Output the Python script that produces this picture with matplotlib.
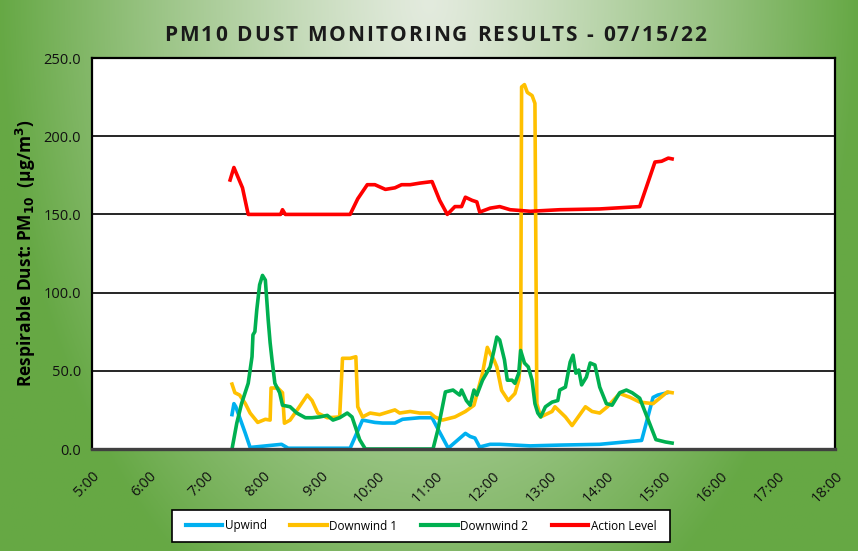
import numpy as np
import matplotlib.pyplot as plt
from matplotlib.patches import Rectangle
from datetime import datetime

plt.rcParams['font.family'] = ['Open Sans', 'DejaVu Sans']

# --- data (time "H:MM", PM10 ug/m3) ---
up_t = ['7:27', '7:29', '7:31', '7:41', '7:46', '8:19', '8:26', '9:31', '9:44', '9:57',
        '10:05', '10:18', '10:26', '10:44', '10:57', '11:03', '11:14', '11:32', '11:37',
        '11:42', '11:47', '11:58', '12:08', '12:40', '13:11', '13:53', '14:37', '14:49',
        '14:54', '15:04']
up_v = [22, 29, 27, 10, 1, 3, 0.5, 0.5, 18.5, 17,
        16.6, 16.6, 19, 20, 20, 13, 0.5, 10, 8,
        7, 1.3, 3, 3, 2, 2.5, 3, 5.5, 33,
        34.5, 36]

dw1_t = ['7:27', '7:30', '7:35', '7:41', '7:46', '7:54', '8:02', '8:07', '8:08', '8:15',
         '8:20', '8:22', '8:28', '8:36', '8:46', '8:51', '8:57', '9:07', '9:20', '9:23',
         '9:31', '9:37', '9:39', '9:44', '9:52', '10:02', '10:18', '10:23', '10:34', '10:44',
         '10:55', '11:00', '11:08', '11:21', '11:32', '11:41', '11:50', '11:55', '11:58', '12:02',
         '12:05', '12:10', '12:17', '12:24', '12:28', '12:30', '12:31', '12:34', '12:37', '12:42',
         '12:45', '12:47', '12:51', '13:03', '13:06', '13:17', '13:24', '13:38', '13:45', '13:53',
         '14:01', '14:14', '14:25', '14:35', '14:49', '14:56', '15:04', '15:09']
dw1_v = [41.5, 36, 34.5, 29, 23, 17, 19, 18.5, 39, 39,
         36, 16.5, 18.5, 25.5, 34.5, 31, 23, 20, 20.5, 58,
         58, 59, 27, 20.5, 23, 22, 25, 23, 24, 23,
         23, 20.5, 18.5, 20.5, 24, 28, 48.5, 65, 61, 57,
         52.5, 37.5, 31, 35.5, 44, 57, 231.5, 233, 228, 226,
         221, 29, 20.5, 24, 27, 20.5, 15, 27, 24, 23,
         27, 35.5, 33, 30, 29, 32.5, 36.5, 36]

dw2_t = ['7:27', '7:32', '7:37', '7:44', '7:48', '7:49', '7:51', '7:53', '7:56', '7:59',
         '8:02', '8:05', '8:07', '8:09', '8:12', '8:17', '8:20', '8:28', '8:35', '8:44',
         '8:51', '8:59', '9:07', '9:13', '9:20', '9:28', '9:33', '9:41', '9:47', '10:58',
         '11:03', '11:11', '11:19', '11:26', '11:28', '11:33', '11:37', '11:41', '11:44', '11:50',
         '11:58', '12:02', '12:05', '12:08', '12:13', '12:16', '12:21', '12:24', '12:28', '12:30',
         '12:34', '12:38', '12:42', '12:45', '12:48', '12:51', '12:56', '13:03', '13:09', '13:11',
         '13:17', '13:22', '13:25', '13:28', '13:31', '13:34', '13:39', '13:43', '13:48', '13:53',
         '14:00', '14:06', '14:14', '14:21', '14:27', '14:35', '14:44', '14:52', '15:02', '15:09']
dw2_v = [0, 16.5, 29, 42, 59, 73, 75, 89, 105, 111,
         108, 82.5, 68, 57, 42, 36, 28, 27, 23, 20,
         20, 20.5, 21.5, 18.5, 20, 23, 20.5, 6, 0, 0,
         12, 36.5, 37.7, 34.5, 37.7, 31, 28, 37.7, 34.5, 44,
         52.5, 63, 71.6, 69.7, 57, 44, 44, 42, 48.5, 63,
         55, 52.5, 44, 29, 23, 20.5, 27, 30, 31, 37.7,
         39.6, 55.6, 60, 48.5, 50.5, 41, 46, 55, 53.7, 39.6,
         29, 28, 36, 37.7, 36, 32.5, 18.5, 6, 4.5, 3.8]

act_t = ['7:25', '7:29', '7:38', '7:44', '8:18', '8:20', '8:23', '9:31', '9:39', '9:49',
         '9:57', '10:08', '10:18', '10:25', '10:34', '10:44', '10:57', '11:05', '11:13', '11:21',
         '11:28', '11:32', '11:39', '11:44', '11:47', '11:58', '12:08', '12:19', '12:40', '13:11',
         '13:53', '14:35', '14:51', '14:58', '15:05', '15:09']
act_v = [172, 180, 167, 150, 150, 153, 150, 150, 160, 169,
         169, 166, 167, 169, 169, 170, 171, 159, 150, 155,
         155, 161, 159, 158, 151.5, 154, 155, 153, 152, 153,
         153.5, 155, 183.5, 184, 186, 185.5]

x_ticks = ['%d:00' % h for h in range(5, 19)]
title = 'PM10 DUST MONITORING RESULTS - 07/15/22'


def to_dt(lst):
    return [datetime.strptime('2022-07-15 ' + s, '%Y-%m-%d %H:%M') for s in lst]


fig = plt.figure(figsize=(8.58, 5.51), dpi=100)

# green gradient background, light at top centre
bg = fig.add_axes([0, 0, 1, 1], zorder=-5)
yy, xx = np.mgrid[0:1:300j, 0:1:500j]
d = np.sqrt(((xx - 0.5) / 0.5) ** 2 + ((yy - 0.0) / 1.25) ** 2)
d = np.clip(d, 0, 1) ** 1.2
light = np.array([0.89, 0.92, 0.87])
dark = np.array([0.40, 0.66, 0.27])
img = light[None, None, :] + (dark - light)[None, None, :] * d[:, :, None]
bg.imshow(img, aspect='auto', extent=[0, 1, 0, 1], origin='upper')
bg.set_axis_off()

ax = fig.add_axes([0.1072, 0.1851, 0.866, 0.7096])
ax.set_facecolor('white')

lw = 2.6
ax.plot(to_dt(up_t), up_v, color='#00B0F0', lw=lw, label='Upwind', solid_joinstyle='round')
ax.plot(to_dt(dw1_t), dw1_v, color='#FFC000', lw=lw, label='Downwind 1', solid_joinstyle='round')
ax.plot(to_dt(dw2_t), dw2_v, color='#00B050', lw=lw, label='Downwind 2', solid_joinstyle='round')
ax.plot(to_dt(act_t), act_v, color='#FF0000', lw=lw, label='Action Level', solid_joinstyle='round')

ax.set_ylim(0, 250)
ax.set_yticks([0, 50, 100, 150, 200, 250])
ax.set_yticklabels(['%.1f' % v for v in [0, 50, 100, 150, 200, 250]])
ax.grid(axis='y', color='black', lw=1.2)
ax.set_axisbelow(True)

tick_dt = to_dt(x_ticks)
ax.set_xlim(tick_dt[0], tick_dt[-1])
ax.set_xticks(tick_dt)
ax.set_xticklabels(x_ticks, rotation=45, ha='right', va='top', rotation_mode='anchor')
ax.tick_params(axis='x', length=0, pad=14, labelsize=10.5, labelcolor='#111111')
ax.tick_params(axis='y', length=0, pad=8, labelsize=10.5, labelcolor='#111111')

for s in ['left', 'top', 'right']:
    ax.spines[s].set_linewidth(1.6)
    ax.spines[s].set_color('black')
ax.spines['bottom'].set_linewidth(2.4)
ax.spines['bottom'].set_color('#404040')

ax.set_ylabel('Respirable Dust: PM$_{\\mathbf{10}}$  (µg/m$^{\\mathbf{3}}$)',
              fontsize=12.5, fontweight='bold', labelpad=4)

# title with extra letter spacing, laid out character by character
renderer = fig.canvas.get_renderer()
tkw = dict(fontsize=15, fontweight='bold', color='#1a1a1a', va='center', ha='left')
spacing = 2.1  # px between letters
probe = fig.text(0, 0, 'x', **tkw)
wx = probe.get_window_extent(renderer).width
probe.remove()
offsets = []
for i in range(len(title) + 1):
    p = fig.text(0, 0, title[:i] + 'x', **tkw)
    offsets.append(p.get_window_extent(renderer).width - wx + i * spacing)
    p.remove()
total = offsets[-1] - spacing
x0 = 435 - total / 2
W, H = fig.bbox.width, fig.bbox.height
for i, ch in enumerate(title):
    if ch != ' ':
        fig.text((x0 + offsets[i]) / W, 0.936, ch, **tkw)

# legend with a wide frame
fig.add_artist(Rectangle((172 / 858, 1 - 542 / 551), 498 / 858, 32 / 551,
                         transform=fig.transFigure, facecolor='white',
                         edgecolor='black', lw=1.2, zorder=3))
leg = fig.legend(loc='center', bbox_to_anchor=(421 / 858, 1 - 526 / 551), ncol=4,
                 frameon=False, fontsize=8.5, handlelength=3.1,
                 columnspacing=2.0, borderpad=0.3, handletextpad=0.2)
leg.set_zorder(4)
for line in leg.get_lines():
    line.set_linewidth(3)

fig.savefig('out.png', dpi=100)
